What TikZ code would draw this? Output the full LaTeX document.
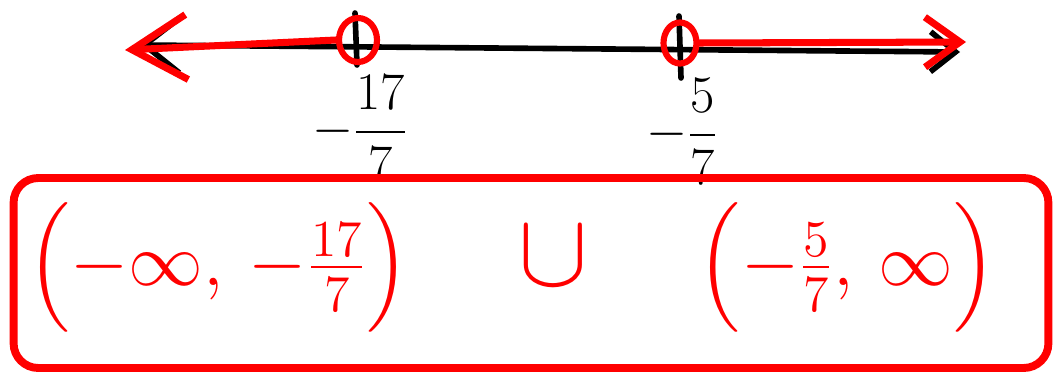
\documentclass[tikz,border=0pt]{standalone}
\usepackage{amsmath,amssymb}
\usepackage{graphicx}
\usepackage{tikz}
\usetikzlibrary{
  arrows.meta,
  positioning,
  shapes.geometric,
}
\definecolor{inkRed}{HTML}{FF0000}
\definecolor{inkBlack}{HTML}{000000}
\tikzset{
  numLine/.style={
    line width=3.2pt, draw=inkBlack, line cap=round,
    {Straight Barb[length=7mm,width=11mm]}-{Straight Barb[length=5mm,width=8mm]},
  },
  rayArrowL/.style={
    line width=4pt, draw=inkRed, line cap=round,
    -{Straight Barb[length=11mm,width=13mm]},
  },
  rayArrowR/.style={
    line width=4pt, draw=inkRed, line cap=round,
    -{Straight Barb[length=7mm,width=10mm]},
  },
  tickMark/.style={
    line width=3.2pt, draw=inkBlack, line cap=round,
  },
  openPoint/.style={
    ellipse, draw=inkRed, line width=3.5pt, inner sep=0pt,
  },
  tickLabel/.style={
    text=inkBlack, inner sep=0pt, font=\fontsize{20}{24}\selectfont,
  },
  answerText/.style={
    text=inkRed, inner sep=0pt, font=\fontsize{20}{24}\selectfont,
  },
  answerBox/.style={
    rectangle, rounded corners=14pt, draw=inkRed, line width=4.5pt,
    minimum width=20.7cm, minimum height=3.8cm,
  },
}
\newcommand{\bigUnion}{\mathbin{\scalebox{1.4}{$\cup$}}}

\begin{document}
\begin{tikzpicture}[x=0.02cm, y=-0.02cm]
\useasboundingbox (0,0) rectangle (1054,372);

% number line
\coordinate (lineL) at (140,45);
\coordinate (lineR) at (960,52);
\draw[numLine] (lineL) -- (lineR);

% ticks
\coordinate (tickAtop) at (355,13);
\coordinate (tickAbot) at (357,65);
\coordinate (tickBtop) at (679,16);
\coordinate (tickBbot) at (681,78);
\draw[tickMark] (tickAtop) -- (tickAbot);
\draw[tickMark] (tickBtop) -- (tickBbot);

% open endpoints
\node[openPoint, minimum width=0.76cm, minimum height=0.88cm] (ptA) at (358,40) {};
\node[openPoint, minimum width=0.66cm, minimum height=0.82cm] (ptB) at (680,43) {};

% shaded rays
\coordinate (rayLend) at (125,50);
\coordinate (rayRend) at (966,42);
\draw[rayArrowL] (ptA.west) -- (rayLend);
\draw[rayArrowR] (ptB.east) -- (rayRend);

% tick labels
\node[tickLabel] (labA) at (360,128) {\scalebox{1.45}{$-\dfrac{17}{7}$}};
\node[tickLabel] (labB) at (682,131) {\scalebox{1.45}{$-\dfrac{5}{7}$}};

% answer in interval notation
\node[answerBox] (box) at (531,273) {};
\node[answerText] (answer) at (512,267)
  {\scalebox{2.05}{$\Bigl(-\infty,\,-\tfrac{17}{7}\Bigr)\quad\;\bigUnion\quad\;\Bigl(-\tfrac{5}{7},\,\infty\Bigr)$}};

\end{tikzpicture}
\end{document}
